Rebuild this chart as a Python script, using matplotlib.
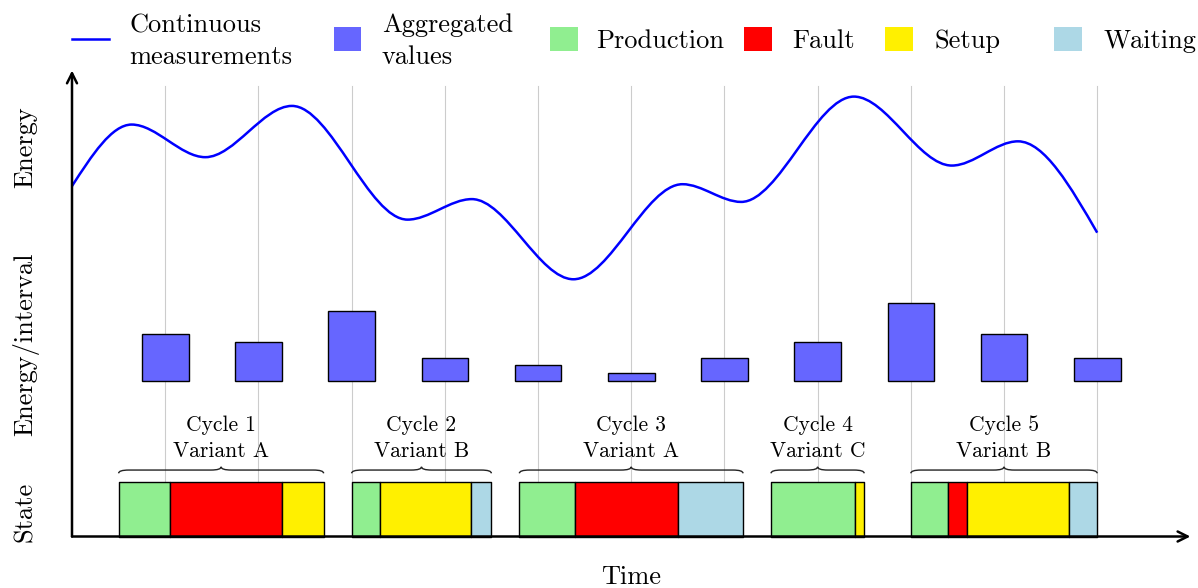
import numpy as np
import matplotlib
matplotlib.use("Agg")
import matplotlib.pyplot as plt
from matplotlib.path import Path
from matplotlib.patches import PathPatch, Rectangle
from matplotlib.lines import Line2D

plt.rcParams['font.family'] = 'cmr10'
plt.rcParams['mathtext.fontset'] = 'cm'
plt.rcParams['axes.formatter.use_mathtext'] = True

curve_t = [0.0, 0.64, 1.43, 2.36, 3.6, 4.29, 5.38, 6.55, 7.18, 8.39, 9.44, 10.15, 11.0]
curve_e = [3.76, 4.42, 4.07, 4.62, 3.40, 3.62, 2.76, 3.78, 3.59, 4.72, 3.98, 4.24, 3.26]

# aggregated energy per interval (in twelfths)
intervals = [1, 2, 3, 4, 5, 6, 7, 8, 9, 10, 11]
agg_values = [6, 5, 9, 3, 2, 1, 3, 5, 10, 6, 3]

# machine states per cycle
cycle_names = ["Cycle 1", "Cycle 2", "Cycle 3", "Cycle 4", "Cycle 5"]
cycle_variants = ["Variant A", "Variant B", "Variant A", "Variant C", "Variant B"]
cycle_starts = [0.5, 3.0, 4.8, 7.5, 9.0]
cycle_states = [["Production", "Fault", "Setup"],
                ["Production", "Setup", "Waiting"],
                ["Production", "Fault", "Waiting"],
                ["Production", "Setup"],
                ["Production", "Fault", "Setup", "Waiting"]]
cycle_durations = [[0.55, 1.2, 0.45],
                   [0.3, 0.98, 0.22],
                   [0.6, 1.1, 0.7],
                   [0.9, 0.1],
                   [0.4, 0.2, 1.1, 0.3]]

state_names = ["Production", "Fault", "Setup", "Waiting"]
state_colors = ["#90EE90", "#FF0000", "#FFF000", "#ADD8E6"]
color_of = dict(zip(state_names, state_colors))

W, H = 1198, 588
PX = 93.2       # pixels per unit
X0, Y0 = 72, 536.5

fig = plt.figure(figsize=(W / 100, H / 100), dpi=100)
ax = fig.add_axes([0, 0, 1, 1])
ax.set_xlim(-X0 / PX, (W - X0) / PX)
ax.set_ylim((Y0 - H) / PX, Y0 / PX)
ax.axis('off')

# vertical grid
for t in intervals:
    ax.plot([t, t], [0, 4.83], color='#cccccc', lw=0.8, zorder=0)

# axes arrows
for end in [(12.0, 0), (0, 5.0)]:
    ax.annotate('', xy=end, xytext=(0, 0),
                arrowprops=dict(arrowstyle='->', lw=1.8, color='black', mutation_scale=18,
                                shrinkA=0, shrinkB=0), zorder=5)

# smooth curve: cubic Bezier segments, flat at the turning points
xs = np.array(curve_t)
ys = np.array(curve_e)
m = np.zeros(len(xs))
m[0] = 1.5 * (ys[1] - ys[0]) / (xs[1] - xs[0])
m[-1] = 1.5 * (ys[-1] - ys[-2]) / (xs[-1] - xs[-2])
verts = [(xs[0], ys[0])]
codes = [Path.MOVETO]
for i in range(len(xs) - 1):
    d = (xs[i + 1] - xs[i]) / 3
    verts += [(xs[i] + d, ys[i] + m[i] * d),
              (xs[i + 1] - d, ys[i + 1] - m[i + 1] * d),
              (xs[i + 1], ys[i + 1])]
    codes += [Path.CURVE4] * 3
ax.add_patch(PathPatch(Path(verts, codes), fill=False, edgecolor='#0000FF', lw=1.8, zorder=3))

# aggregated bars
bar_base = 1.67
ax.bar(intervals, np.array(agg_values) / 12, width=0.5, bottom=bar_base,
       color='#6666FF', edgecolor='black', lw=1.0, zorder=3)

# state bars, braces and labels
st_h = 0.585
br_y, br_h, br_r = 0.678, 0.07, 0.11
for name, var, start, states, durs in zip(cycle_names, cycle_variants, cycle_starts,
                                          cycle_states, cycle_durations):
    lefts = start + np.concatenate([[0], np.cumsum(durs)[:-1]])
    ax.broken_barh(list(zip(lefts, durs)), (0, st_h),
                   facecolors=[color_of[s] for s in states],
                   edgecolor='black', lw=1.0, zorder=3)
    x0, x1 = start, start + sum(durs)
    xm = (x0 + x1) / 2
    yb, ym, yt = br_y, br_y + br_h / 2, br_y + br_h
    bv = [(x0, yb), (x0, ym), (x0 + br_r, ym), (xm - br_r, ym), (xm, ym), (xm, yt),
          (xm, ym), (xm + br_r, ym), (x1 - br_r, ym), (x1, ym), (x1, yb)]
    bc = [Path.MOVETO, Path.CURVE3, Path.CURVE3, Path.LINETO, Path.CURVE3, Path.CURVE3,
          Path.CURVE3, Path.CURVE3, Path.LINETO, Path.CURVE3, Path.CURVE3]
    ax.add_patch(PathPatch(Path(bv, bc), fill=False, edgecolor='#222222', lw=1.0, zorder=3))
    ax.text(xm, 1.135, name, ha='center', va='baseline', fontsize=15.5)
    ax.text(xm, 0.856, var, ha='center', va='baseline', fontsize=15.5)

# axis labels
lx = (32 - X0) / PX
for lab, cy in [("Energy", 147), ("Energy/interval", 344), ("State", 512)]:
    ax.text(lx, (Y0 - cy) / PX, lab, rotation=90, rotation_mode='anchor',
            ha='center', va='baseline', fontsize=19)
ax.text(6.0, (Y0 - 584) / PX, "Time", ha='center', va='baseline', fontsize=19)

# legend (figure pixel positions)
def fx(p):
    return p / W

def fy(p):
    return 1 - p / H

fig.add_artist(Line2D([fx(72), fx(109)], [fy(39.3), fy(39.3)], color='#0000FF', lw=1.8))
fig.text(fx(129.5), fy(32.3), "Continuous", fontsize=19, va='baseline')
fig.text(fx(129.5), fy(64.3), "measurements", fontsize=19, va='baseline')
fig.add_artist(Rectangle((fx(333.5), fy(50.7)), fx(27.5), 23.4 / H, color='#6666FF', lw=0))
fig.text(fx(382), fy(32.3), "Aggregated", fontsize=19, va='baseline')
fig.text(fx(382), fy(64.3), "values", fontsize=19, va='baseline')
leg_sq = [550, 744, 885, 1054]
leg_tx = [596, 792, 934, 1104]
for s, c, sx, tx in zip(state_names, state_colors, leg_sq, leg_tx):
    fig.add_artist(Rectangle((fx(sx), fy(50.7)), fx(27.5), 23.4 / H, color=c, lw=0))
    fig.text(fx(tx), fy(48), s, fontsize=19, va='baseline')

fig.savefig('out.png', dpi=100)
